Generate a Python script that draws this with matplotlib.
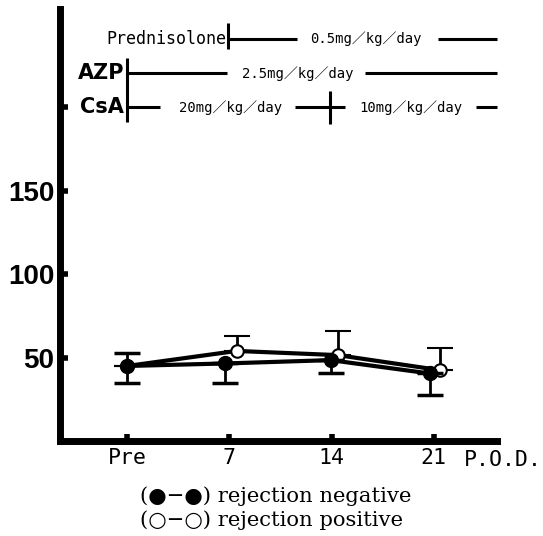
import matplotlib
matplotlib.use("Agg")
import matplotlib.pyplot as plt

# data
days = ["Pre", "7", "14", "21"]
x_neg = [0, 0.96, 1.99, 2.96]
x_pos = [0, 1.07, 2.06, 3.06]
neg = [45, 46.5, 48.5, 40.5]
neg_lo = [10, 12, 7.5, 13]
neg_hi = [8, 0, 0, 0]
pos = [45, 54, 51.5, 42.5]
pos_lo = [0, 0, 0, 0]
pos_hi = [0, 9, 14.5, 13.5]

mono = ['DejaVu Sans Mono', 'Noto Sans CJK JP']

fig = plt.figure(figsize=(5.43, 5.36), dpi=100)
ax = fig.add_axes([0.1105, 0.1772, 0.8048, 0.806])

ax.errorbar(x_pos, pos, yerr=[pos_lo, pos_hi], color='black', lw=3,
            marker='o', ms=9, mfc='white', mec='black', mew=1.5,
            elinewidth=2, capsize=9.5, capthick=2.5, zorder=3)
ax.errorbar(x_neg, neg, yerr=[neg_lo, neg_hi], color='black', lw=3,
            marker='o', ms=10, mfc='black', mec='black',
            elinewidth=2, capsize=9.5, capthick=2.5, zorder=4)

ax.set_xlim(-0.66, 3.62)
ax.set_ylim(0, 259)
ax.set_yticks([50, 100, 150, 200])
ax.set_yticklabels(['50', '100', '150', ''], fontsize=20, fontweight='bold',
                   family='Liberation Sans')
ax.set_xticks(range(len(days)))
ax.set_xticklabels(days, fontsize=15.5, family=mono)
ax.tick_params(axis='y', direction='in', length=6, width=4, pad=4)
ax.tick_params(axis='x', direction='in', length=5, width=4, pad=5)
for s in ['top', 'right']:
    ax.spines[s].set_visible(False)
ax.spines['left'].set_linewidth(5)
ax.spines['bottom'].set_linewidth(5)
ax.text(3.3, -5.5, "P.O.D.", fontsize=15.5, family=mono, ha='left', va='top')

# treatment schedule
end = 3.62
tl = dict(color='black', lw=2.2, solid_capstyle='butt', clip_on=False)
tx = dict(fontsize=10, family=mono, ha='center', va='center')
# Prednisolone
yp = 241
ax.text(0.97, yp, "Prednisolone", fontsize=12, family=mono,
        ha='right', va='center')
ax.plot([0.99, 0.99], [yp - 6, yp + 9.6], **tl)
ax.plot([0.99, 1.66], [yp, yp], **tl)
ax.text(2.34, yp, "0.5mg／kg／day", **tx)
ax.plot([3.04, end], [yp, yp], **tl)
# AZP
ya = 220.5
ax.text(-0.03, ya, "AZP", fontsize=15, fontweight='bold', family='DejaVu Sans',
        ha='right', va='center')
ax.plot([0.0, 0.0], [ya + 9, 191], **tl)
ax.plot([0.0, 0.98], [ya, ya], **tl)
ax.text(1.665, ya, "2.5mg／kg／day", **tx)
ax.plot([2.33, end], [ya, ya], **tl)
# CsA
yc = 200
ax.text(-0.03, yc, "CsA", fontsize=15, fontweight='bold', family='DejaVu Sans',
        ha='right', va='center')
ax.plot([0.0, 0.32], [yc, yc], **tl)
ax.text(1.01, yc, "20mg／kg／day", **tx)
ax.plot([1.64, 2.13], [yc, yc], **tl)
ax.plot([1.98, 1.98], [yc - 10, yc + 10], **tl)
ax.text(2.78, yc, "10mg／kg／day", **tx)
ax.plot([3.41, end], [yc, yc], **tl)

serif = ['DejaVu Serif', 'DejaVu Sans']
fig.text(0.258, 0.0746, "(●−●) rejection negative", fontsize=15.2, family=serif,
         ha='left', va='center')
fig.text(0.258, 0.0299, "(○−○) rejection positive", fontsize=15.2, family=serif,
         ha='left', va='center')

fig.savefig("out.png", dpi=100)
